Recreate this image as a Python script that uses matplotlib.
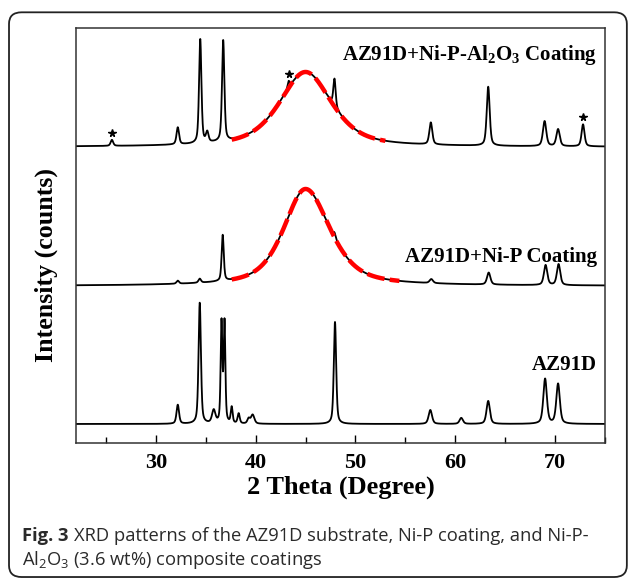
import numpy as np
import matplotlib
matplotlib.use("Agg")
import matplotlib.pyplot as plt
from matplotlib.patches import FancyBboxPatch

plt.rcParams['mathtext.default'] = 'regular'

# 2 theta grid (degree)
two_theta = np.linspace(22, 75, 6000)

# stacked baselines (a.u.)
base_az91d = 19
base_nip = 157
base_nipal = 296

# AZ91D substrate: sharp peaks (2theta, height, fwhm)
az91d_pos = [32.2, 34.4, 35.8, 36.58, 36.88, 37.6, 38.3, 39.3, 39.7, 47.95, 57.5, 60.6, 63.3, 69.0, 70.3]
az91d_h = [19, 121, 13, 100, 100, 16, 10, 5, 9, 102, 14, 6, 23, 45, 40]
az91d_w = [0.3, 0.28, 0.4, 0.2, 0.2, 0.22, 0.25, 0.3, 0.4, 0.28, 0.4, 0.4, 0.4, 0.42, 0.42]

# Ni-P coating
nip_pos = [32.2, 34.4, 36.7, 47.9, 57.6, 63.35, 69.05, 70.35]
nip_h = [3, 4, 46, 5, 4, 12, 20, 21]
nip_w = [0.3, 0.3, 0.25, 0.3, 0.4, 0.4, 0.4, 0.4]
nip_hump = dict(center=45.0, height=97, hwhm_left=2.6, hwhm_right=2.9)
nip_fit_range = (37.6, 54.4)

# Ni-P-Al2O3 composite coating
nipal_pos = [25.6, 32.2, 34.45, 35.15, 36.75, 43.3, 47.9, 57.55, 63.3, 68.95, 70.3, 72.8]
nipal_h = [6, 17, 104, 10, 101, 7, 28, 22, 59, 25, 17, 22]
nipal_w = [0.3, 0.3, 0.28, 0.3, 0.28, 0.25, 0.28, 0.35, 0.35, 0.4, 0.4, 0.35]
nipal_hump = dict(center=45.0, height=75, hwhm_left=3.1, hwhm_right=3.1)
nipal_fit_range = (37.6, 53.0)

# peaks marked with a star on the composite coating
star_pos = [25.6, 43.3, 72.8]

labels = ["AZ91D", "AZ91D+Ni-P Coating", "AZ91D+Ni-P-Al$_2$O$_3$ Coating"]
label_y = [0.188, 0.448, 0.935]

xticks_major = [30, 40, 50, 60, 70]
xticks_minor = [25, 35, 45, 55, 65, 75]


def pvoigt(x, c, h, hw, eta=0.5):
    g = np.exp(-np.log(2) * ((x - c) / hw) ** 2)
    l = 1.0 / (1.0 + ((x - c) / hw) ** 2)
    return h * (eta * l + (1 - eta) * g)


def sharp(x, pos, h, w):
    y = np.zeros_like(x)
    for c, hh, ww in zip(pos, h, w):
        y += pvoigt(x, c, hh, ww / 2, 0.5)
    return y


def hump(x, p):
    hw = np.where(x < p['center'], p['hwhm_left'], p['hwhm_right'])
    return pvoigt(x, p['center'], p['height'], hw, 0.6)


y_az91d = base_az91d + sharp(two_theta, az91d_pos, az91d_h, az91d_w)
hump_nip = hump(two_theta, nip_hump)
y_nip = base_nip + hump_nip + sharp(two_theta, nip_pos, nip_h, nip_w)
hump_nipal = hump(two_theta, nipal_hump)
y_nipal = base_nipal + hump_nipal + sharp(two_theta, nipal_pos, nipal_h, nipal_w)

fig = plt.figure(figsize=(6.3, 5.78), dpi=100)
ax = fig.add_axes([0.1206, 0.2336, 0.8397, 0.718])

for y in (y_az91d, y_nip, y_nipal):
    ax.plot(two_theta, y, color='black', lw=1.3)

# amorphous hump fits
for hp, rng, base in ((hump_nip, nip_fit_range, base_nip), (hump_nipal, nipal_fit_range, base_nipal)):
    m = (two_theta >= rng[0]) & (two_theta <= rng[1])
    ax.plot(two_theta[m], base + hp[m], color='#ff0000', lw=3.2, dashes=(4, 1.2))

star_y = np.interp(star_pos, two_theta, y_nipal) + 7
ax.plot(star_pos, star_y, ls='none', marker='*', color='black', ms=5.5)

for lab, yy in zip(labels, label_y):
    ax.text(0.985, yy, lab, transform=ax.transAxes, ha='right', va='center',
            family='Liberation Serif', fontweight='bold', fontsize=15)

ax.set_xlim(22, 75)
ax.set_ylim(0, 415)
ax.set_yticks([])
ax.set_xticks(xticks_major)
ax.set_xticks(xticks_minor, minor=True)
ax.tick_params(axis='x', which='major', direction='in', length=6, width=1, pad=7)
ax.tick_params(axis='x', which='minor', direction='in', length=4, width=1)
for lab in ax.get_xticklabels():
    lab.set_family('Liberation Serif')
    lab.set_fontweight('bold')
    lab.set_fontsize(16)
for s in ax.spines.values():
    s.set_linewidth(1.1)
    s.set_color('#333333')

ax.set_xlabel('2 Theta (Degree)', family='Liberation Serif', fontweight='bold', fontsize=19, labelpad=2)
ax.set_ylabel('Intensity (counts)', family='Liberation Serif', fontweight='bold', fontsize=18.6)
ax.yaxis.set_label_coords(-0.034, 0.43)

# caption
cap_color = '#2a2a2a'
cap_size = 13.25
t1 = fig.text(0.035, 0.0727, 'Fig. 3', family='Open Sans', fontweight='bold', fontsize=cap_size,
              color=cap_color, va='center')
fig.canvas.draw()
bb = t1.get_window_extent()
x_after = (bb.x1 + 5) / fig.bbox.width
fig.text(x_after, 0.0727, 'XRD patterns of the AZ91D substrate, Ni-P coating, and Ni-P-',
         family='Open Sans', fontsize=cap_size, color=cap_color, va='center')
fig.text(0.035, 0.031, 'Al$_2$O$_3$ (3.6 wt%) composite coatings', family='Open Sans',
         fontsize=cap_size, color=cap_color, va='center')

box = FancyBboxPatch((0.0143, 0.0017), 0.9807, 0.977, boxstyle='round,pad=0,rounding_size=0.02',
                     transform=fig.transFigure, fill=False, edgecolor='#222222', lw=1.3)
fig.patches.append(box)

fig.savefig('out.png', dpi=100)
